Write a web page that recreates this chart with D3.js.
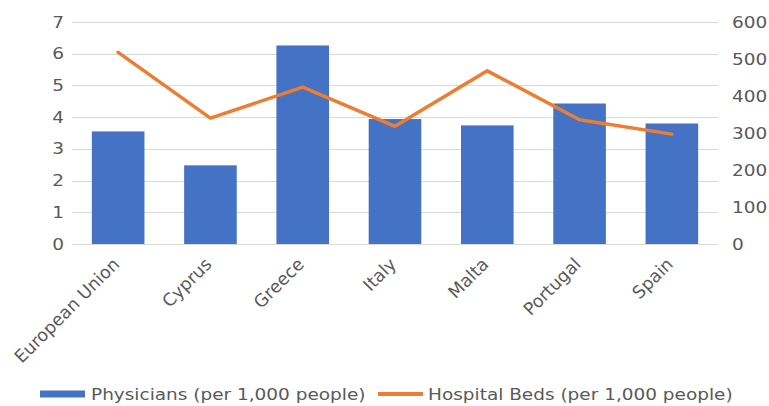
<!DOCTYPE html>
<html>
<head>
<meta charset="utf-8">
<script src="https://cdn.jsdelivr.net/npm/d3@7"></script>
<style>
  body { margin: 0; background: #fff; }
</style>
</head>
<body>
<svg id="chart" width="769" height="406" font-family="DejaVu Sans" font-size="16"></svg>
<script>
const categories = ['European Union', 'Cyprus', 'Greece', 'Italy', 'Malta', 'Portugal', 'Spain']
const physicians = [3.55, 2.48, 6.26, 3.94, 3.74, 4.43, 3.8]
const hospitalBeds = [518, 340, 424, 318, 468, 336, 297]
const leftTicks = [0, 1, 2, 3, 4, 5, 6, 7]
const rightTicks = [0, 100, 200, 300, 400, 500, 600]
const seriesNames = ['Physicians (per 1,000 people)', 'Hospital Beds (per 1,000 people)']

const width = 769
const height = 406
const margin = { top: 22, right: 51, bottom: 162, left: 72 }
const chartWidth = width - margin.left - margin.right
const chartHeight = height - margin.top - margin.bottom

const blue = '#4472c4'
const orange = '#ed7d31'
const textColor = '#595959'
const stretch = 1.155 // reference text looks horizontally widened

const svg = d3.select('#chart')
const g = svg.append('g').attr('transform', `translate(${margin.left},${margin.top})`)

const x = d3.scaleBand().domain(categories).range([0, chartWidth]).paddingInner(0.43).paddingOuter(0.215)
const xPoint = (c) => x(c) + x.bandwidth() / 2
const yLeft = d3.scaleLinear().domain([0, 7]).range([chartHeight, 0])
const yRight = d3.scaleLinear().domain([0, 600]).range([chartHeight, 0])

// gridlines
g.append('g')
  .selectAll('line')
  .data(leftTicks)
  .join('line')
  .attr('x1', 0)
  .attr('x2', chartWidth)
  .attr('y1', (d) => Math.round(yLeft(d)) + 0.5)
  .attr('y2', (d) => Math.round(yLeft(d)) + 0.5)
  .attr('stroke', '#d9d9d9')
  .attr('stroke-width', 1)

// left axis labels
g.append('g')
  .selectAll('text')
  .data(leftTicks)
  .join('text')
  .attr('transform', (d) => `translate(-8,${yLeft(d)}) scale(${stretch},1)`)
  .attr('dy', '0.35em')
  .attr('text-anchor', 'end')
  .attr('fill', textColor)
  .text((d) => d)

// right axis labels
g.append('g')
  .selectAll('text')
  .data(rightTicks)
  .join('text')
  .attr('transform', (d) => `translate(${chartWidth + 14},${yRight(d)}) scale(${stretch},1)`)
  .attr('dy', '0.35em')
  .attr('text-anchor', 'start')
  .attr('fill', textColor)
  .text((d) => d)

// bars
g.append('g')
  .selectAll('rect')
  .data(categories)
  .join('rect')
  .attr('x', (d) => x(d))
  .attr('y', (d, i) => yLeft(physicians[i]))
  .attr('width', x.bandwidth())
  .attr('height', (d, i) => chartHeight - yLeft(physicians[i]))
  .attr('fill', blue)

// line
const line = d3.line()
  .x((d, i) => xPoint(categories[i]))
  .y((d) => yRight(d))

g.append('path')
  .datum(hospitalBeds)
  .attr('d', line)
  .attr('fill', 'none')
  .attr('stroke', orange)
  .attr('stroke-width', 3.5)
  .attr('stroke-linejoin', 'round')
  .attr('stroke-linecap', 'round')

// category labels
g.append('g')
  .selectAll('text')
  .data(categories)
  .join('text')
  .attr('transform', (d) => `translate(${xPoint(d) - 2},${chartHeight + 17}) rotate(-45)`)
  .attr('text-anchor', 'end')
  .attr('dy', '0.35em')
  .attr('font-size', 17.5)
  .attr('fill', textColor)
  .text((d) => d)

// legend
const legend = svg.append('g').attr('transform', 'translate(0,394)')
legend.append('rect')
  .attr('x', 40).attr('y', -3.5).attr('width', 45).attr('height', 7)
  .attr('fill', blue)
legend.append('text')
  .attr('transform', `translate(91,0) scale(${stretch},1)`)
  .attr('dy', '0.35em')
  .attr('fill', textColor)
  .text(seriesNames[0])
legend.append('line')
  .attr('x1', 378).attr('x2', 423).attr('y1', 0).attr('y2', 0)
  .attr('stroke', orange).attr('stroke-width', 4)
legend.append('text')
  .attr('transform', `translate(428,0) scale(${stretch},1)`)
  .attr('dy', '0.35em')
  .attr('fill', textColor)
  .text(seriesNames[1])
</script>
</body>
</html>
